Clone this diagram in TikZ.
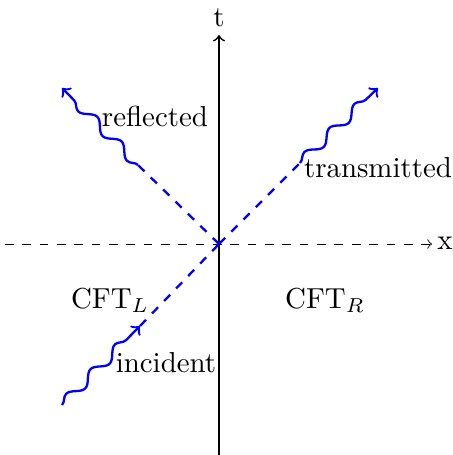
\documentclass[tikz,border=0pt]{standalone}
\usetikzlibrary{decorations.pathmorphing}
\begin{document}
\begin{tikzpicture}[x=0.346pt,y=-0.346pt,
  axis/.style={semithick,->},
  xaxis/.style={dashed,line width=0.3pt,->},
  wave/.style={blue,thick,->,decorate,decoration={snake,amplitude=1.7pt,segment length=12pt,post length=2pt}},
  ray/.style={blue,thick,dashed},
  lbl/.style={inner sep=1pt}]
\useasboundingbox (0,0) rectangle (453,455);
\coordinate (O) at (219,244);
\coordinate (tb) at (219,455);
\coordinate (tt) at (219,35);
\coordinate (xl) at (5,244);
\coordinate (xr) at (432,244);
\coordinate (A) at (62,405);
\coordinate (B) at (140,326);
\coordinate (R1) at (138,165);
\coordinate (R2) at (62,88);
\coordinate (T1) at (300,163);
\coordinate (T2) at (378,88);
\draw[xaxis] (xl) -- (xr);
\draw[axis] (tb) -- (tt);
\node[lbl] (tl) at (219,18) {t};
\node[lbl] (xlab) at (445,243) {x};
\draw[wave] (A) -- (B);
\draw[ray] (B) -- (O);
\draw[ray] (O) -- (R1);
\draw[wave] (R1) -- (R2);
\draw[ray] (O) -- (T1);
\draw[wave] (T1) -- (T2);
\node[lbl] (refl) at (155,116) {reflected};
\node[lbl] (trans) at (378,168) {transmitted};
\node[lbl] (inc) at (166,363) {incident};
\node[lbl] (cl) at (110,300) {CFT$_L$};
\node[lbl] (cr) at (325,300) {CFT$_R$};
\end{tikzpicture}
\end{document}
